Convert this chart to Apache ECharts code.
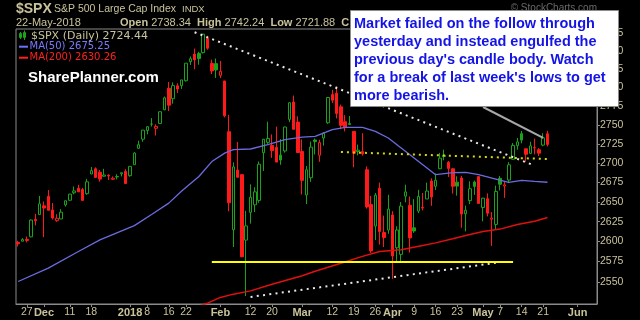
<!DOCTYPE html>
<html><head><meta charset="utf-8">
<script src="https://cdn.jsdelivr.net/npm/echarts@6/dist/echarts.min.js"></script>
<style>html,body{margin:0;padding:0;background:#000;}#c{width:640px;height:320px;}</style>
</head><body><div id="c"></div>
<script>
// ---- data ----
const dates = [
'2017-11-22','2017-11-24','2017-11-27','2017-11-28','2017-11-29','2017-11-30',
'2017-12-01','2017-12-04','2017-12-05','2017-12-06','2017-12-07','2017-12-08',
'2017-12-11','2017-12-12','2017-12-13','2017-12-14','2017-12-15',
'2017-12-18','2017-12-19','2017-12-20','2017-12-21','2017-12-22',
'2017-12-26','2017-12-27','2017-12-28','2017-12-29',
'2018-01-02','2018-01-03','2018-01-04','2018-01-05',
'2018-01-08','2018-01-09','2018-01-10','2018-01-11','2018-01-12',
'2018-01-16','2018-01-17','2018-01-18','2018-01-19',
'2018-01-22','2018-01-23','2018-01-24','2018-01-25','2018-01-26',
'2018-01-29','2018-01-30','2018-01-31',
'2018-02-01','2018-02-02','2018-02-05','2018-02-06','2018-02-07','2018-02-08','2018-02-09',
'2018-02-12','2018-02-13','2018-02-14','2018-02-15','2018-02-16',
'2018-02-20','2018-02-21','2018-02-22','2018-02-23',
'2018-02-26','2018-02-27','2018-02-28',
'2018-03-01','2018-03-02','2018-03-05','2018-03-06','2018-03-07','2018-03-08','2018-03-09',
'2018-03-12','2018-03-13','2018-03-14','2018-03-15','2018-03-16',
'2018-03-19','2018-03-20','2018-03-21','2018-03-22','2018-03-23',
'2018-03-26','2018-03-27','2018-03-28','2018-03-29',
'2018-04-02','2018-04-03','2018-04-04','2018-04-05','2018-04-06',
'2018-04-09','2018-04-10','2018-04-11','2018-04-12','2018-04-13',
'2018-04-16','2018-04-17','2018-04-18','2018-04-19','2018-04-20',
'2018-04-23','2018-04-24','2018-04-25','2018-04-26','2018-04-27','2018-04-30',
'2018-05-01','2018-05-02','2018-05-03','2018-05-04',
'2018-05-07','2018-05-08','2018-05-09','2018-05-10','2018-05-11',
'2018-05-14','2018-05-15','2018-05-16','2018-05-17','2018-05-18',
'2018-05-21','2018-05-22'
];
const futureDates = ['2018-05-23','2018-05-24','2018-05-25','2018-05-29','2018-05-30','2018-05-31',
'2018-06-01','2018-06-04','2018-06-05','2018-06-06','2018-06-07'];

const opens = [2599.0,2600.4,2602.7,2605.9,2627.8,2633.9,2645.1,2657.2,2639.8,2626.2,2628.4,2646.2,
2652.2,2661.7,2667.6,2665.9,2660.6,2685.9,2692.7,2688.2,2683.0,2684.2,2679.1,2682.1,2686.1,2689.2,
2683.7,2697.9,2719.3,2731.3,2742.7,2751.2,2745.6,2752.0,2770.2,2799.0,2785.0,2802.4,2802.6,
2809.2,2835.1,2845.4,2846.2,2847.5,2867.2,2832.7,2832.4,
2816.5,2808.9,2741.1,2614.8,2691.0,2685.0,2601.8,2636.8,2646.3,2652.0,2713.5,2727.1,
2723.0,2720.5,2710.4,2715.8,2757.4,2780.5,2753.8,
2715.2,2658.9,2681.1,2730.2,2710.2,2732.8,2752.9,2790.5,2792.3,2774.1,2754.3,2750.6,
2741.4,2715.1,2715.0,2691.4,2646.7,2619.4,2667.6,2611.3,2614.4,
2633.5,2592.2,2584.0,2657.4,2645.8,2617.2,2638.4,2643.0,2653.8,2676.9,
2670.1,2692.7,2710.1,2701.2,2692.6,2675.4,2680.8,2634.9,2651.7,2675.5,2682.5,
2643.0,2654.2,2628.1,2621.5,2680.3,2670.3,2678.1,2705.0,2722.7,
2738.5,2718.6,2712.6,2719.7,2717.4,2723.5,2738.34];
const highs = [2600.9,2604.2,2606.4,2627.7,2634.9,2657.7,2650.6,2665.2,2648.7,2634.4,2640.9,2651.7,
2660.3,2669.7,2671.9,2668.1,2679.6,2695.0,2694.4,2691.0,2692.6,2685.4,2682.7,2685.6,2687.7,2692.1,
2695.9,2714.4,2729.3,2743.5,2748.5,2759.1,2750.8,2767.6,2787.9,2807.5,2807.0,2805.8,2810.3,
2833.0,2842.2,2853.0,2848.6,2872.9,2870.6,2837.8,2839.3,
2836.0,2808.9,2763.4,2701.0,2727.7,2685.3,2638.7,2672.6,2668.8,2702.1,2731.5,2754.4,
2737.6,2747.8,2731.3,2747.8,2780.0,2789.2,2761.5,
2730.9,2696.3,2728.1,2732.1,2730.6,2740.5,2786.6,2797.0,2801.9,2777.1,2763.0,2761.9,
2741.4,2724.2,2739.1,2695.7,2657.7,2661.4,2674.8,2632.7,2659.1,
2638.3,2619.1,2649.9,2672.1,2656.9,2653.6,2665.5,2661.4,2674.7,2680.3,
2686.5,2713.3,2717.5,2702.8,2693.9,2682.9,2683.6,2645.3,2676.5,2677.4,2682.9,
2655.3,2660.9,2637.1,2670.9,2683.4,2676.3,2701.3,2726.1,2732.9,
2742.1,2718.6,2727.8,2731.96,2719.5,2739.2,2742.24];
const lows = [2593.8,2600.4,2598.9,2605.4,2620.3,2633.9,2605.5,2639.3,2627.7,2624.8,2628.4,2644.1,
2651.5,2659.8,2662.9,2652.0,2659.1,2685.9,2680.7,2676.1,2682.4,2678.1,2678.0,2678.9,2682.7,2673.6,
2682.4,2697.8,2719.1,2727.9,2737.6,2747.9,2736.1,2752.0,2769.6,2768.6,2778.4,2792.6,2798.1,
2808.1,2830.6,2824.8,2830.9,2846.2,2851.5,2818.3,2813.0,
2812.7,2760.0,2638.2,2593.1,2681.3,2580.6,2532.7,2622.5,2637.1,2648.9,2689.8,2725.1,
2706.8,2701.3,2697.8,2713.7,2753.8,2744.2,2713.5,
2659.7,2647.3,2675.8,2711.3,2701.7,2722.7,2751.5,2779.3,2758.7,2744.4,2741.5,2750.0,
2694.6,2710.1,2709.8,2641.6,2585.9,2601.8,2596.1,2593.1,2609.7,
2553.8,2574.5,2573.6,2649.6,2586.3,2610.8,2635.8,2639.3,2653.8,2645.1,
2665.2,2692.1,2703.6,2681.9,2660.6,2658.0,2617.3,2612.7,2647.2,2659.0,2648.0,
2625.4,2631.7,2594.6,2615.3,2664.7,2655.2,2674.1,2704.5,2717.5,
2725.9,2701.9,2712.2,2711.4,2709.2,2722.0,2721.88];
const closes = [2597.1,2602.4,2601.4,2627.0,2626.1,2647.6,2642.2,2639.4,2629.6,2629.3,2637.0,2651.5,
2660.0,2664.1,2662.9,2652.0,2675.8,2690.2,2681.5,2679.3,2684.6,2683.3,2680.5,2682.6,2687.5,2673.6,
2695.8,2713.1,2724.0,2743.2,2747.7,2751.3,2748.2,2767.6,2786.2,2776.4,2802.6,2798.0,2810.3,
2833.0,2839.1,2837.5,2839.3,2872.9,2853.5,2822.4,2823.8,
2822.0,2762.1,2648.9,2695.1,2681.7,2581.0,2619.6,2656.0,2662.9,2698.6,2731.2,2732.2,
2716.3,2701.3,2704.0,2747.3,2779.6,2744.3,2713.8,
2677.7,2691.3,2720.9,2728.1,2726.8,2739.0,2786.6,2783.0,2765.3,2749.5,2747.3,2752.0,
2712.9,2716.9,2711.9,2643.7,2588.3,2658.6,2612.6,2605.0,2640.9,
2581.9,2614.5,2644.7,2662.8,2604.5,2613.2,2656.9,2642.2,2664.0,2656.3,
2677.8,2706.4,2708.6,2693.1,2670.1,2670.3,2634.6,2639.4,2666.9,2669.9,2648.1,
2654.8,2635.7,2629.7,2663.4,2672.6,2671.9,2697.8,2723.1,2727.7,
2730.1,2711.5,2722.5,2720.1,2713.0,2733.0,2724.44];

// moving averages: [category index] and value
const ma50Idx = [0,7,14,19,27,31,35,38,42,45,48,50,54,58,62,66,69,73,76,80,83,86,89,92,95,97,101,104,107,111,114,117,120,123];
const ma50 = [2550.5,2567,2587.5,2602,2620,2634,2648.5,2664,2682.7,2702,2713,2717.5,2718.4,2724,2730.6,2734.1,2735,2743.8,2746.8,2746.8,2741.5,2732.8,2719.7,2706.6,2693.6,2685,2687.6,2688,2685,2679.4,2675,2677.6,2676.3,2675.25];
const ma200Idx = [40,44,47,50,54,59,66,69,75,80,84,89,94,97,101,104,108,112,116,120,123];
const ma200 = [2517,2524,2531,2535,2539,2547,2557.5,2563,2573,2581.5,2587.5,2589.8,2595,2598.3,2603.5,2607.6,2612.6,2615.6,2621.3,2625.5,2630.26];

// drawn trend lines: [index, value] pairs
const resistanceLine = [[41, 2875.5], [120, 2696.7]];
const supportDotted = [[54, 2531.6], [111, 2573.5]];
const supportSolid = [[45, 2575], [115, 2575]];
const midDotted = [[75, 2714.4], [123, 2705.3]];
const noteTarget = [122, 2733.0];

const yTicks = [2550,2575,2600,2625,2650,2675,2700,2725,2750,2775,2800,2825,2850,2875];
const xTickDates = ['2017-11-27','2017-12-01','2017-12-11','2017-12-18','2018-01-02','2018-01-08','2018-01-16','2018-01-22',
'2018-02-01','2018-02-12','2018-02-20','2018-03-01','2018-03-12','2018-03-19','2018-03-26','2018-04-02','2018-04-09',
'2018-04-16','2018-04-23','2018-05-01','2018-05-07','2018-05-14','2018-05-21','2018-06-01'];
const xTickLabels = ['27','Dec','11','18','2018','8','16','22','Feb','12','20','Mar','12','19','26','Apr','9','16','23','May','7','14','21','Jun'];

const noteLines = ["Market failed on the follow through","yesterday and instead engulfed the","previous day's candle body. Watch","for a break of last week's lows to get","more bearish."];

// ---- chart ----
const GREEN = '#1aa31a', RED = '#ff1a1a', KHAKI = '#c9c39b';
const categories = dates.concat(futureDates);
const tickMap = {};
xTickDates.forEach((d, i) => { tickMap[d] = xTickLabels[i]; });
const last = dates.length - 1;

const candleData = dates.map((d, i) => {
  const prev = i > 0 ? closes[i - 1] : opens[i];
  const col = closes[i] >= prev ? GREEN : RED;
  const fill = closes[i] > opens[i] ? '#000' : col;
  return { value: [opens[i], closes[i], lows[i], highs[i]],
    itemStyle: { color: fill, color0: fill, borderColor: col, borderColor0: col, borderColorDoji: col } };
});

const FONT = '"Liberation Sans", Arial, sans-serif';
const chart = echarts.init(document.getElementById('c'), null, { renderer: 'canvas' });
const fmt = v => v.toFixed(2);

chart.setOption({
  animation: false,
  backgroundColor: '#000',
  grid: { left: 16, right: 43, top: 29, bottom: 16, show: true, borderColor: '#8a8a8a', borderWidth: 1, backgroundColor: '#000' },
  xAxis: {
    type: 'category', data: categories, boundaryGap: true,
    axisLine: { show: true, lineStyle: { color: '#8a8a8a', width: 1 } },
    axisTick: { show: true, alignWithLabel: true, length: 3, interval: (i, v) => v in tickMap, lineStyle: { color: '#8a8a8a' } },
    axisLabel: {
      interval: (i, v) => v in tickMap, margin: 3, color: KHAKI, fontFamily: FONT, fontSize: 10.5,
      hideOverlap: false,
      formatter: v => { const t = tickMap[v] || ''; return /^\d{1,2}$/.test(t) ? t : '{b|' + t + '}'; },
      rich: { b: { fontWeight: 'bold', fontSize: 11, color: KHAKI, fontFamily: FONT } }
    },
    splitLine: { show: false }
  },
  yAxis: {
    type: 'log', logBase: 10, position: 'right', min: 2523, max: 2880, scale: true,
    axisLine: { show: true, lineStyle: { color: '#8a8a8a' } },
    axisTick: { show: true, length: 3, customValues: yTicks, lineStyle: { color: '#8a8a8a' } },
    axisLabel: { customValues: yTicks, color: KHAKI, fontFamily: FONT, fontSize: 10.5, margin: 3, formatter: v => String(Math.round(v)) },
    splitLine: { show: false }, minorTick: { show: false }
  },
  series: [
    {
      type: 'candlestick', data: candleData, barWidth: 3, z: 3,
      markLine: {
        silent: true, symbol: ['none', 'none'], label: { show: false }, animation: false,
        data: [
          [{ coord: resistanceLine[0], lineStyle: { color: '#e8e8e8', width: 2, type: [2, 4.3] } }, { coord: resistanceLine[1] }],
          [{ coord: supportDotted[0], lineStyle: { color: '#e8e8e8', width: 2, type: [2, 4.3] } }, { coord: supportDotted[1] }],
          [{ coord: supportSolid[0], lineStyle: { color: '#ffff00', width: 2, type: 'solid' } }, { coord: supportSolid[1] }],
          [{ coord: midDotted[0], lineStyle: { color: '#d8d800', width: 2, type: [2, 4] } }, { coord: midDotted[1] }],
          [{ x: 483, y: 107, lineStyle: { color: '#a8a8a8', width: 2, type: 'solid' } }, { coord: noteTarget }]
        ]
      }
    },
    { type: 'line', data: ma50Idx.map((x, k) => [x, ma50[k]]), showSymbol: false, symbol: 'none', z: 4,
      lineStyle: { color: '#6b6be0', width: 1.3 } },
    { type: 'line', data: ma200Idx.map((x, k) => [x, ma200[k]]), showSymbol: false, symbol: 'none', z: 4,
      lineStyle: { color: '#e01010', width: 1.5 } }
  ],
  graphic: [
    { type: 'text', x: 16, y: 9, z: 50, style: { text: '$SPX', fill: KHAKI, font: 'bold 14px ' + FONT, verticalAlign: 'middle', textVerticalAlign: 'middle' } },
    { type: 'text', x: 54, y: 9.5, z: 50, style: { text: 'S&P 500 Large Cap Index', fill: KHAKI, font: '10.5px ' + FONT, verticalAlign: 'middle', textVerticalAlign: 'middle' } },
    { type: 'text', x: 182, y: 9.5, z: 50, style: { text: 'INDX', fill: KHAKI, font: '9.5px ' + FONT, verticalAlign: 'middle', textVerticalAlign: 'middle' } },
    { type: 'text', x: 597, y: 8, z: 50, style: { text: '\u00A9 StockCharts.com', fill: '#6a6a6a', font: '10px ' + FONT, align: 'right', textAlign: 'right', verticalAlign: 'middle', textVerticalAlign: 'middle' } },
    { type: 'text', x: 16, y: 23, z: 50, style: { text: '22-May-2018', fill: KHAKI, font: '11px ' + FONT, verticalAlign: 'middle', textVerticalAlign: 'middle' } },
    { type: 'text', x: 120, y: 23, z: 50, style: { text: '{b|Open} ' + fmt(opens[last]) + '  {b|High} ' + fmt(highs[last]) + '  {b|Low} ' + fmt(lows[last]) + '  {b|Close} ' + fmt(closes[last]),
      fill: KHAKI, font: '11px ' + FONT, verticalAlign: 'middle', textVerticalAlign: 'middle',
      rich: { b: { fontWeight: 'bold', fontSize: 11, fontFamily: FONT, fill: KHAKI, color: KHAKI } } } },
    // legend
    { type: 'rect', z: 50, shape: { x: 19.5, y: 33.5, width: 2, height: 4 }, style: { fill: 'none', stroke: GREEN, lineWidth: 1 } },
    { type: 'rect', z: 50, shape: { x: 23.5, y: 32.5, width: 2, height: 5 }, style: { fill: 'none', stroke: GREEN, lineWidth: 1 } },
    { type: 'line', z: 50, shape: { x1: 24.5, y1: 30.5, x2: 24.5, y2: 40 }, style: { stroke: GREEN, lineWidth: 1 } },
    { type: 'line', z: 50, shape: { x1: 20.5, y1: 32, x2: 20.5, y2: 39 }, style: { stroke: GREEN, lineWidth: 1 } },
    { type: 'text', x: 31, y: 35.7, z: 50, style: { text: '$SPX (Daily) ' + fmt(closes[last]), fill: KHAKI, font: '11px "DejaVu Sans"', verticalAlign: 'middle', textVerticalAlign: 'middle' } },
    { type: 'line', z: 50, shape: { x1: 19, y1: 46.7, x2: 28, y2: 46.7 }, style: { stroke: '#7070ff', lineWidth: 2 } },
    { type: 'text', x: 29.5, y: 46.7, z: 50, style: { text: 'MA(50) ' + fmt(ma50[ma50.length - 1]), fill: '#7a7aff', font: '10px "DejaVu Sans"', verticalAlign: 'middle', textVerticalAlign: 'middle' } },
    { type: 'line', z: 50, shape: { x1: 19, y1: 57.7, x2: 28, y2: 57.7 }, style: { stroke: '#ff2020', lineWidth: 2 } },
    { type: 'text', x: 29.5, y: 57.7, z: 50, style: { text: 'MA(200) ' + fmt(ma200[ma200.length - 1]), fill: '#ff2020', font: '10px "DejaVu Sans"', verticalAlign: 'middle', textVerticalAlign: 'middle' } },
    { type: 'text', x: 28, y: 78, z: 50, style: { text: 'SharePlanner.com', fill: '#ffffff', font: 'bold 15px ' + FONT, verticalAlign: 'middle', textVerticalAlign: 'middle' } },
    // annotation box
    { type: 'rect', z: 100, shape: { x: 350.5, y: 10.5, width: 268, height: 96 }, style: { fill: '#ffffff', stroke: '#8c8c8c', lineWidth: 1 } },
    { type: 'text', x: 354, y: 14.5, z: 101, style: { text: noteLines.join('\n'), fill: '#1414e6', font: 'bold 14.5px ' + FONT, lineHeight: 18.2, verticalAlign: 'top', textVerticalAlign: 'top' } }
  ]
});
</script>
</body></html>
